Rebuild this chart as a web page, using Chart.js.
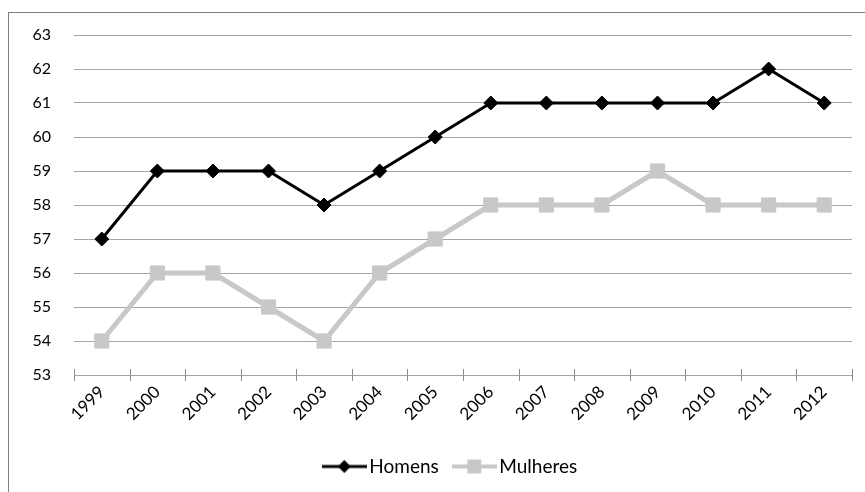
<!DOCTYPE html>
<html>
<head>
<meta charset="utf-8">
<script src="https://cdn.jsdelivr.net/npm/chart.js@4"></script>
<style>
  html, body { margin: 0; padding: 0; background: #fff; overflow: hidden; }
  #wrap { position: relative; width: 865px; height: 492px; }
  #frame { position: absolute; left: 8px; top: 12px; width: 900px; height: 520px; border: 1px solid #808080; box-sizing: border-box; }
  #c { position: absolute; left: 0; top: 0; }
</style>
</head>
<body>
<div id="wrap">
  <div id="frame"></div>
  <canvas id="c" width="865" height="492"></canvas>
</div>
<script>
const years = ['1999','2000','2001','2002','2003','2004','2005','2006','2007','2008','2009','2010','2011','2012'];
const homens = [57, 59, 59, 59, 58, 59, 60, 61, 61, 61, 61, 61, 62, 61];
const mulheres = [54, 56, 56, 55, 54, 56, 57, 58, 58, 58, 59, 58, 58, 58];
const yTicks = [53, 54, 55, 56, 57, 58, 59, 60, 61, 62, 63];

const BLACK = '#000000';
const GRAY = '#c8c8c8';

function legendImage(color, lineW, shape, size) {
  const cv = document.createElement('canvas');
  cv.width = 45; cv.height = 20;
  const g = cv.getContext('2d');
  g.strokeStyle = color; g.lineWidth = lineW;
  g.beginPath(); g.moveTo(0, 10); g.lineTo(45, 10); g.stroke();
  g.fillStyle = color;
  g.beginPath();
  if (shape === 'diamond') {
    g.moveTo(22.5, 10 - size); g.lineTo(22.5 + size, 10); g.lineTo(22.5, 10 + size); g.lineTo(22.5 - size, 10); g.closePath();
  } else {
    g.rect(22.5 - size, 10 - size, size * 2, size * 2);
  }
  g.fill();
  return cv;
}
const legImgs = [legendImage(BLACK, 3, 'diamond', 6.5), legendImage(GRAY, 4, 'square', 7)];

const crossTicks = {
  id: 'crossTicks',
  afterDraw(chart) {
    const xs = chart.scales.x;
    const ctx = chart.ctx;
    const n = xs.getLabels().length;
    const step = (xs.right - xs.left) / n;
    ctx.save();
    ctx.strokeStyle = '#8c8c8c';
    ctx.lineWidth = 1;
    for (let i = 0; i <= n; i++) {
      const x = Math.round(xs.left + i * step) + 0.5;
      ctx.beginPath();
      ctx.moveTo(x, xs.top - 6);
      ctx.lineTo(x, xs.top + 6);
      ctx.stroke();
    }
    ctx.restore();
  }
};

// legend is centred on the (wider) outer frame rather than the canvas
const legendShift = {
  id: 'legendShift',
  afterLayout(chart) {
    if (chart.legend) { chart.legend.left += 54; }
  }
};

new Chart(document.getElementById('c'), {
  type: 'line',
  data: {
    labels: years,
    datasets: [
      {
        label: 'Homens', data: homens,
        borderColor: BLACK, backgroundColor: BLACK, borderWidth: 3,
        pointStyle: 'rectRot', pointRadius: 7, pointBorderWidth: 1,
        pointBackgroundColor: BLACK, pointBorderColor: BLACK, tension: 0
      },
      {
        label: 'Mulheres', data: mulheres,
        borderColor: GRAY, backgroundColor: GRAY, borderWidth: 5,
        pointStyle: 'rect', pointRadius: 10, pointBorderWidth: 1,
        pointBackgroundColor: GRAY, pointBorderColor: GRAY, tension: 0
      }
    ]
  },
  options: {
    responsive: false,
    animation: false,
    layout: { padding: { left: 0, top: 35, right: 13, bottom: 6 } },
    plugins: {
      tooltip: { enabled: false },
      legend: {
        position: 'bottom',
        labels: {
          usePointStyle: true,
          pointStyleWidth: 31,
          padding: 20,
          color: '#000',
          font: { family: 'Lato', size: 19 },
          generateLabels(chart) {
            return chart.data.datasets.map((ds, i) => ({
              text: ds.label, pointStyle: legImgs[i], datasetIndex: i,
              fillStyle: ds.borderColor, strokeStyle: ds.borderColor, lineWidth: 0,
              fontColor: '#000', hidden: false
            }));
          }
        }
      }
    },
    scales: {
      x: {
        offset: true,
        grid: { display: true, drawOnChartArea: false, drawTicks: false },
        border: { display: true, color: '#a6a6a6', width: 1 },
        ticks: { color: '#000', font: { family: 'Lato', size: 17 }, minRotation: 45, maxRotation: 45, padding: 7, autoSkip: false },
        afterFit(scale) { scale.height = 62; }
      },
      y: {
        min: 53, max: 63,
        afterBuildTicks(scale) { scale.ticks = yTicks.map(v => ({ value: v })); },
        grid: { color: '#a6a6a6', lineWidth: 1, drawTicks: false },
        border: { display: false },
        ticks: { color: '#000', font: { family: 'Lato', size: 16 }, padding: 23 },
        afterFit(scale) { scale.width = 74; }
      }
    }
  },
  plugins: [crossTicks, legendShift]
});
</script>
</body>
</html>
